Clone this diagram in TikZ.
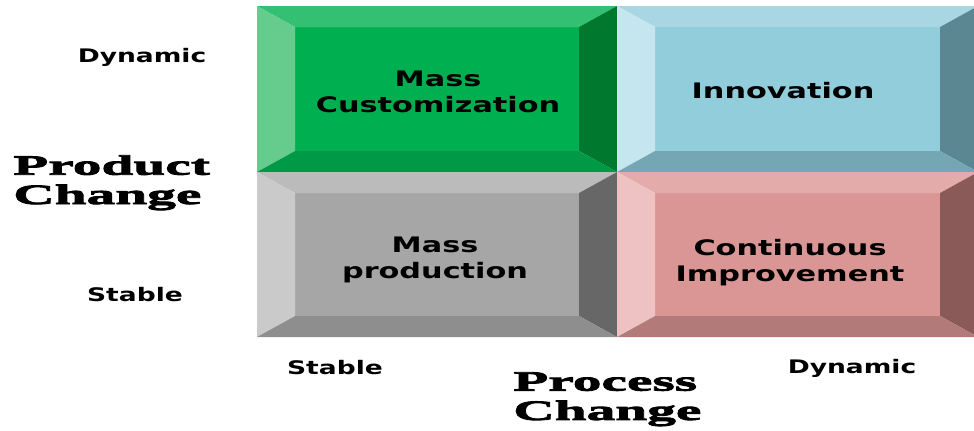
\documentclass[tikz,border=0pt]{standalone}
\usepackage{fontspec}
\newfontfamily\boxfont[FakeStretch=1.42]{DejaVu Sans}
\newfontfamily\posterfont[FakeStretch=2.05,BoldFeatures={FakeBold=3}]{Liberation Serif}

\definecolor{grnface}{HTML}{00B050}
\definecolor{grntop}{HTML}{33C073}
\definecolor{grnleft}{HTML}{66CC8E}
\definecolor{grnright}{HTML}{00792F}
\definecolor{grnbottom}{HTML}{009A46}
\definecolor{bluface}{HTML}{92CDDC}
\definecolor{blutop}{HTML}{A8D7E3}
\definecolor{bluleft}{HTML}{C5E6EF}
\definecolor{bluright}{HTML}{5B8793}
\definecolor{blubottom}{HTML}{75A6B3}
\definecolor{gryface}{HTML}{A6A6A6}
\definecolor{grytop}{HTML}{BBBBBB}
\definecolor{gryleft}{HTML}{CACACA}
\definecolor{gryright}{HTML}{676767}
\definecolor{grybottom}{HTML}{8E8E8E}
\definecolor{pnkface}{HTML}{D99694}
\definecolor{pnktop}{HTML}{E3ABAA}
\definecolor{pnkleft}{HTML}{EEC2C2}
\definecolor{pnkright}{HTML}{8A5A59}
\definecolor{pnkbottom}{HTML}{B27B7A}

\begin{document}
\begin{tikzpicture}[x=0.75pt,y=-0.75pt,
  boxtext/.style={font=\boxfont\bfseries\fontsize{16}{19.5}\selectfont, align=center, inner sep=0pt},
  axislabel/.style={font=\boxfont\bfseries\fontsize{14}{16}\selectfont, inner sep=0pt},
  bigtitle/.style={font=\posterfont\bfseries\fontsize{21}{22}\selectfont, align=left, inner sep=0pt, anchor=north west}]
\clip (0,0) rectangle (974,430);
% bevelled quadrants
\foreach \xa/\ya/\xb/\yb/\col in {257/6/617/172/grn, 617/6/978/172/blu, 257/172/617/337/gry, 617/172/978/337/pnk}{
  \fill[\col face] (\xa+38,\ya+21) rectangle (\xb-38,\yb-21);
  \fill[\col top] (\xa,\ya) -- (\xb,\ya) -- (\xb-38,\ya+21) -- (\xa+38,\ya+21) -- cycle;
  \fill[\col left] (\xa,\ya) -- (\xa+38,\ya+21) -- (\xa+38,\yb-21) -- (\xa,\yb) -- cycle;
  \fill[\col right] (\xb,\ya) -- (\xb,\yb) -- (\xb-38,\yb-21) -- (\xb-38,\ya+21) -- cycle;
  \fill[\col bottom] (\xa,\yb) -- (\xb,\yb) -- (\xb-38,\yb-21) -- (\xa+38,\yb-21) -- cycle;
}
\node [boxtext] (mc) at (438,92) {Mass\\Customization};
\node [boxtext] (inno) at (783,91) {Innovation};
\node [boxtext] (mp) at (435,260) {Mass\\production};
\node [boxtext] (ci) at (790,263) {Continuous\\Improvement};
% axis labels
\node [axislabel] (dynl) at (142,57) {Dynamic};
\node [axislabel] (stabl) at (135,295) {Stable};
\node [axislabel] (stabb) at (335,368) {Stable};
\node [axislabel] (dynb) at (852,368) {Dynamic};
\node [bigtitle] (prod) at (13,155) {Product\\Change};
\node [bigtitle] (proc) at (513,372) {Process\\Change};
\end{tikzpicture}
\end{document}
